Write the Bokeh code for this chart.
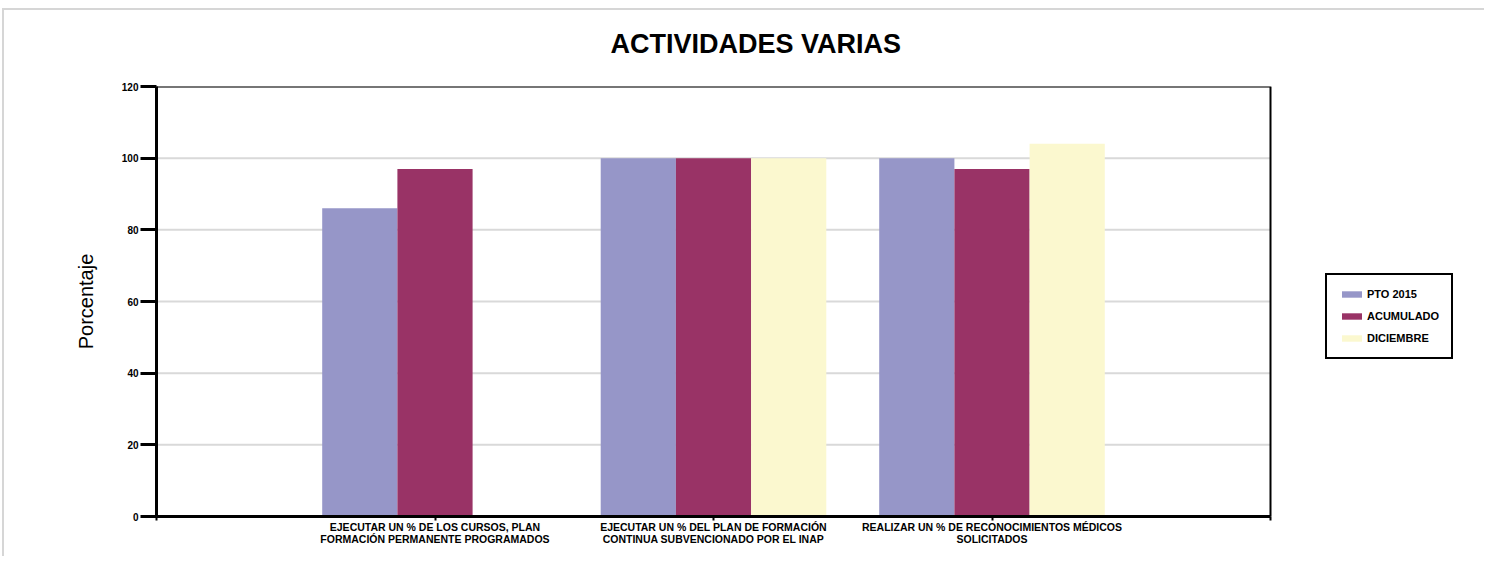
from bokeh.plotting import figure
from bokeh.models import Range1d, ColumnDataSource, Legend, LegendItem, FixedTicker
from bokeh.transform import dodge
from bokeh.embed import file_html
from bokeh.resources import INLINE

# ---- data ----
categories = [
    "EJECUTAR UN % DE LOS CURSOS, PLAN\nFORMACIÓN PERMANENTE PROGRAMADOS",
    "EJECUTAR UN % DEL PLAN DE FORMACIÓN\nCONTINUA SUBVENCIONADO POR EL INAP",
    "REALIZAR UN % DE RECONOCIMIENTOS MÉDICOS\nSOLICITADOS",
]
series = ["PTO 2015", "ACUMULADO", "DICIEMBRE"]
pto_2015 = [86, 100, 100]
acumulado = [97, 100, 97]
diciembre = [0, 100, 104]
y_ticks = [0, 20, 40, 60, 80, 100, 120]
colors = ["#9696c8", "#993366", "#fbf8cf"]

FONT = "Liberation Sans"

# layout constants
W, H = 1484, 556
BL, BR, BT, BB = 156, 2, 86, 40
PLOT_W = 1114                      # drawn plotting-area width in px
n_slots = len(categories) + 1      # category axis spans 0 .. n+1
frame_w = W - BL - BR
x_end = n_slots * frame_w / PLOT_W

positions = list(range(1, len(categories) + 1))
source = ColumnDataSource(data=dict(pos=positions, s0=pto_2015, s1=acumulado, s2=diciembre))

p = figure(
    width=W, height=H,
    x_range=Range1d(0, x_end), y_range=Range1d(0, y_ticks[-1]),
    output_backend="svg", toolbar_location=None,
    min_border_left=BL, min_border_right=BR, min_border_top=BT, min_border_bottom=BB,
)
# light grey page frame (top and left edges), seen through a transparent border fill
p.border_fill_alpha = 0
p.styles = {
    "background-image": "linear-gradient(#d6d6d6, #d6d6d6), linear-gradient(#d6d6d6, #d6d6d6)",
    "background-size": "100% 2px, 2px 100%",
    "background-position": "2px 8px, 2px 8px",
    "background-repeat": "no-repeat",
}
p.outline_line_color = None

# title
p.title.text = "ACTIVIDADES VARIAS"
p.title.align = "left"
p.title.vertical_align = "top"
p.title.text_font = FONT
p.title.text_font_size = "27px"
p.title.text_font_style = "bold"
p.title.text_color = "black"
p.title.offset = 454
p.title.standoff = 52

# gridlines and plotting-area box
p.xgrid.visible = False
p.ygrid.visible = False
p.segment(x0=0, x1=n_slots, y0=y_ticks, y1=y_ticks, line_color="#d9d9d9", line_width=2, level="underlay")

bar_w = 0.27
offsets = [-bar_w, 0.0, bar_w]
items = []
for i, name in enumerate(series):
    r = p.vbar(x=dodge("pos", offsets[i], range=p.x_range), top="s%d" % i, width=bar_w,
               source=source, fill_color=colors[i], line_color=None)
    items.append(LegendItem(label=name, renderers=[r]))

p.quad(left=0, right=n_slots, bottom=y_ticks[0], top=y_ticks[-1], fill_color=None,
       line_color="black", line_width=2)

legend = Legend(items=items, location=(1169, 157))
legend.border_line_color = "black"
legend.border_line_alpha = 1
legend.border_line_width = 2
legend.background_fill_color = "white"
legend.background_fill_alpha = 1
legend.padding = 12
legend.spacing = 8
legend.margin = 0
legend.glyph_width = 25
legend.glyph_height = 8
legend.label_height = 14
legend.label_standoff = 3
legend.label_text_font = FONT
legend.label_text_font_size = "11px"
legend.label_text_font_style = "bold"
legend.label_text_color = "black"
p.add_layout(legend, "center")

# y axis
p.yaxis.ticker = FixedTicker(ticks=y_ticks)
p.yaxis.axis_label = "Porcentaje"
p.yaxis.axis_label_text_font = FONT
p.yaxis.axis_label_text_font_size = "20px"
p.yaxis.axis_label_text_font_style = "normal"
p.yaxis.axis_label_text_color = "black"
p.yaxis.axis_label_standoff = 22
p.yaxis.axis_line_width = 3
p.yaxis.axis_line_color = "black"
p.yaxis.major_tick_out = 16
p.yaxis.major_tick_in = 0
p.yaxis.major_tick_line_width = 3
p.yaxis.major_tick_line_color = "black"
p.yaxis.minor_tick_line_color = None
p.yaxis.major_label_standoff = 2
p.yaxis.major_label_text_font = FONT
p.yaxis.major_label_text_font_size = "10px"
p.yaxis.major_label_text_font_style = "bold"
p.yaxis.major_label_text_color = "black"

# x axis
x_ticks = [0] + positions + [n_slots]
labels = {0: "", n_slots: ""}
labels.update({pos: cat for pos, cat in zip(positions, categories)})
p.xaxis.ticker = FixedTicker(ticks=x_ticks)
p.xaxis.major_label_overrides = labels
p.xaxis.bounds = (0, n_slots)
p.xaxis.axis_line_width = 3
p.xaxis.axis_line_color = "black"
p.xaxis.major_tick_out = 4
p.xaxis.major_tick_in = 0
p.xaxis.major_tick_line_width = 2
p.xaxis.major_tick_line_color = "black"
p.xaxis.minor_tick_line_color = None
p.xaxis.major_label_standoff = 0
p.xaxis.major_label_text_line_height = 1.0
p.xaxis.major_label_text_font = FONT
p.xaxis.major_label_text_font_size = "10.5px"
p.xaxis.major_label_text_font_style = "bold"
p.xaxis.major_label_text_color = "black"
p.xaxis.major_label_orientation = "horizontal"

with open("out.html", "w") as f:
    f.write(file_html(p, INLINE))
